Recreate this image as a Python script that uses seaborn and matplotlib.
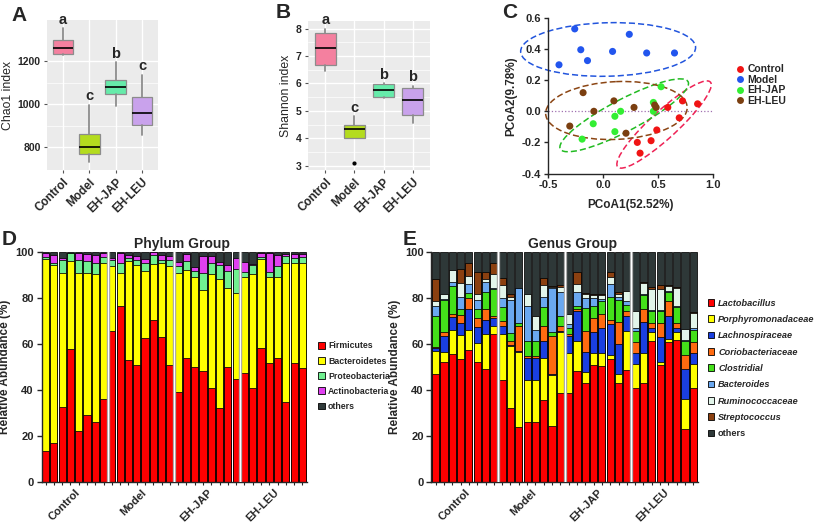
import numpy as np
import pandas as pd
import matplotlib
matplotlib.use("Agg")
import matplotlib.pyplot as plt
from matplotlib.patches import Ellipse, Patch
from matplotlib.lines import Line2D
import seaborn as sns

# ---------------- data ----------------
groups = ["Control", "Model", "EH-JAP", "EH-LEU"]

# A: Chao1 box summaries
chao_whislo = [1230, 731, 990, 857]
chao_q1 = [1234, 771, 1047, 902]
chao_med = [1261, 802, 1079, 957]
chao_q3 = [1297, 863, 1114, 1031]
chao_whishi = [1353, 997, 1195, 1136]
chao_letters = ["a", "c", "b", "c"]

# B: Shannon box summaries
shan_whislo = [6.45, 4.0, 5.48, 4.55]
shan_q1 = [6.69, 4.0, 5.49, 4.86]
shan_med = [7.28, 4.34, 5.75, 5.41]
shan_q3 = [7.85, 4.47, 5.98, 5.85]
shan_whishi = [8.0, 4.8, 6.0, 5.92]
shan_fliers = [[], [3.11], [], []]
shan_letters = ["a", "c", "b", "b"]

box_colors = ["#F4809F", "#B4DC1E", "#66EBAA", "#C9A2EC"]

# C: PCoA coordinates
pc1_control = [0.723, 0.86, 0.589, 0.693, 0.489, 0.437, 0.312, 0.337]
pc2_control = [0.067, 0.048, 0.025, -0.042, -0.12, -0.189, -0.2, -0.269]
pc1_model = [-0.257, 0.239, -0.202, 0.087, 0.397, 0.65, -0.141, -0.40]
pc2_model = [0.53, 0.495, 0.396, 0.385, 0.375, 0.375, 0.326, 0.299]
pc1_jap = [0.528, 0.458, 0.458, 0.16, 0.108, -0.089, 0.108, -0.19]
pc2_jap = [0.158, 0.057, 0.0, 0.0, -0.032, -0.08, -0.131, -0.179]
pc1_leu = [-0.181, 0.099, -0.083, 0.282, 0.483, -0.302, 0.209, 0.47]
pc2_leu = [0.12, 0.067, 0.0, 0.025, 0.025, -0.095, -0.141, 0.04]
pcoa_colors = ["#F01414", "#2255EE", "#33EE33", "#7B3F10"]
ellipse_colors = ["#EE2255", "#2255DD", "#22BB22", "#8B4513"]

# D: phylum, cumulative tops (%)
phy_names = ["Firmicutes", "Bacteroidetes", "Proteobacteria", "Actinobacteria", "others"]
phy_colors = ["#FF0000", "#FFFF00", "#70F090", "#E040F0", "#2F3A3A"]
phy_firm = [13.3, 17.0, 32.3, 57.5, 22.2, 29.1, 26.1, 35.9,
            65.5, 76.4, 52.9, 50.7, 62.5, 70.3, 62.8, 50.7,
            39.1, 53.9, 50.0, 48.1, 40.6, 31.9, 50.0, 44.5,
            47.4, 40.6, 58.1, 51.4, 53.6, 34.8, 51.4, 49.3]
phy_bact = [96.7, 94.3, 90.9, 95.8, 90.9, 90.6, 90.1, 94.9,
            93.9, 90.8, 95.9, 94.0, 91.7, 94.5, 94.9, 93.9,
            90.8, 91.9, 89.1, 83.2, 90.1, 88.0, 84.4, 82.2,
            89.2, 90.3, 96.7, 88.8, 89.1, 95.3, 95.3, 95.3]
phy_proteo = [97.9, 95.2, 96.5, 99.3, 96.4, 95.8, 95.2, 97.8,
              96.2, 95.0, 97.1, 96.4, 95.3, 98.6, 96.4, 96.4,
              93.8, 96.0, 91.5, 90.8, 95.0, 94.2, 91.6, 92.3,
              91.0, 94.0, 97.6, 91.0, 93.9, 98.2, 97.1, 97.5]
phy_actino = [99.3, 98.6, 97.3, 99.4, 99.6, 99.2, 98.7, 99.5,
              97.4, 99.6, 98.6, 98.1, 97.0, 99.9, 98.6, 98.0,
              95.7, 98.9, 93.5, 98.1, 98.1, 95.6, 94.3, 97.2,
              95.7, 94.8, 99.3, 99.4, 98.6, 99.0, 99.0, 99.0]

# E: genus, cumulative tops (%)
gen_names = ["Lactobacillus", "Porphyromonadaceae", "Lachnospiraceae", "Coriobacteriaceae",
             "Clostridial", "Bacteroides", "Ruminococcaceae", "Streptococcus", "others"]
gen_colors = ["#FF0000", "#FFFF00", "#1A3FE0", "#FF6A10", "#44E01A",
              "#6AA8F0", "#E2F5EA", "#8B4010", "#2E3838"]
gen_lacto = [47.0, 52.2, 55.5, 53.3, 57.1, 51.9, 49.0, 64.2,
             44.3, 32.0, 24.0, 26.0, 26.0, 35.4, 24.2, 38.4,
             38.4, 48.0, 42.8, 50.8, 50.2, 53.2, 42.8, 48.4,
             40.6, 42.8, 61.3, 50.8, 60.6, 61.5, 22.8, 40.6]
gen_porph = [57.0, 56.3, 65.8, 63.7, 66.1, 60.3, 64.0, 67.9,
             64.2, 58.9, 56.5, 44.3, 44.3, 53.8, 46.4, 65.0,
             56.0, 61.0, 47.7, 56.0, 55.8, 55.2, 47.0, 65.7,
             51.2, 56.0, 65.0, 52.0, 62.0, 65.2, 35.9, 51.2]
gen_lachno = [58.0, 63.2, 71.5, 69.0, 75.1, 67.2, 70.5, 71.2,
              67.9, 59.5, 56.9, 53.6, 53.6, 61.0, 47.0, 65.5,
              63.2, 74.0, 56.4, 65.0, 67.0, 68.6, 60.0, 72.2,
              55.8, 69.5, 67.0, 63.0, 72.0, 67.0, 49.2, 55.8]
gen_corio = [58.6, 65.1, 72.7, 72.4, 79.7, 71.2, 74.9, 71.9,
             69.8, 61.1, 67.6, 54.8, 54.8, 67.9, 63.5, 67.5,
             64.3, 75.3, 65.5, 71.0, 73.0, 70.3, 69.5, 74.0,
             60.6, 75.0, 69.2, 69.0, 78.5, 69.2, 55.0, 60.6]
gen_clost = [72.2, 78.9, 85.0, 74.9, 82.1, 75.1, 82.4, 83.9,
             76.0, 64.7, 68.8, 61.0, 61.0, 76.0, 65.0, 72.0,
             66.8, 76.5, 75.5, 76.5, 78.5, 80.5, 79.0, 77.0,
             65.7, 81.0, 74.0, 74.0, 82.6, 75.8, 61.0, 65.8]
gen_bact = [76.6, 79.3, 86.8, 80.5, 85.8, 79.2, 86.8, 84.3,
            80.0, 79.2, 84.0, 76.5, 66.0, 80.5, 84.0, 82.5,
            68.5, 82.6, 80.0, 80.0, 79.5, 86.0, 80.2, 78.5,
            66.7, 81.5, 74.6, 74.8, 83.0, 76.3, 61.8, 66.8]
gen_rumino = [78.4, 81.4, 92.0, 86.3, 89.4, 81.5, 88.2, 90.1,
              85.5, 80.2, 84.3, 81.7, 72.0, 85.5, 84.7, 84.5,
              72.7, 85.8, 81.4, 81.3, 81.0, 89.0, 81.5, 82.8,
              74.0, 86.5, 83.8, 83.6, 85.0, 84.0, 66.3, 73.5]
gen_strep = [88.2, 81.4, 92.0, 92.3, 95.2, 91.3, 91.3, 95.2,
             88.7, 81.4, 84.3, 81.7, 72.0, 88.5, 85.3, 85.6,
             72.7, 91.0, 82.0, 81.7, 81.4, 91.0, 82.5, 83.1,
             74.4, 86.8, 84.5, 85.6, 85.5, 84.8, 66.6, 73.9]

n_per_group = 8
samples = [f"{g}{i + 1}" for g in groups for i in range(n_per_group)]

# ---------------- style ----------------
sns.set_style("ticks")
plt.rcParams["font.family"] = ["Liberation Sans", "DejaVu Sans"]
plt.rcParams["axes.linewidth"] = 1.0

W, H = 817, 532
fig = plt.figure(figsize=(W / 100, H / 100), dpi=100)


def px_axes(x0, y0, x1, y1):
    return fig.add_axes([x0 / W, 1 - y1 / H, (x1 - x0) / W, (y1 - y0) / H])


# ---------------- A / B box panels ----------------
def box_panel(ax, lo, q1, med, q3, hi, fliers, letters, ylim, yticks, ylabel, width):
    stats = []
    for i in range(len(groups)):
        stats.append(dict(whislo=lo[i], q1=q1[i], med=med[i], q3=q3[i], whishi=hi[i],
                          fliers=fliers[i] if fliers else []))
    ax.set_facecolor("#EBEBEB")
    ax.set_axisbelow(True)
    bp = ax.bxp(stats, positions=range(4), widths=width, patch_artist=True, showcaps=False,
                boxprops=dict(edgecolor="#8C8C8C", linewidth=0.9),
                whiskerprops=dict(color="#8C8C8C", linewidth=1.3),
                medianprops=dict(color="black", linewidth=1.2),
                flierprops=dict(marker="o", markersize=2, markerfacecolor="black",
                                markeredgecolor="black"))
    for patch, c in zip(bp["boxes"], box_colors):
        patch.set_facecolor(c)
    for i, t in enumerate(letters):
        ax.annotate(t, (i, hi[i]), xytext=(0, 1), textcoords="offset points",
                    ha="center", va="bottom", fontsize=10.5, fontweight="bold")
    ax.set_xlim(-0.6, 3.6)
    ax.set_ylim(*ylim)
    ax.set_yticks(yticks)
    ax.grid(True, which="major", color="white", linewidth=1.0)
    ax.set_yticks([(a + b) / 2 for a, b in zip(yticks[:-1], yticks[1:])], minor=True)
    ax.grid(True, which="minor", axis="y", color="white", linewidth=0.5)
    for s in ax.spines.values():
        s.set_visible(False)
    ax.set_xticks(range(4))
    ax.set_xticklabels(groups, rotation=45, ha="right", rotation_mode="anchor",
                       fontsize=8.5, fontweight="bold")
    ax.tick_params(axis="both", which="major", length=2.5, color="#555555", pad=2)
    ax.tick_params(axis="y", which="minor", length=0)
    for lab in ax.get_yticklabels():
        lab.set_fontweight("bold")
        lab.set_fontsize(7.5)
    ax.set_ylabel(ylabel, fontsize=8.8, labelpad=3)


axA = px_axes(47, 20, 158, 170)
box_panel(axA, chao_whislo, chao_q1, chao_med, chao_q3, chao_whishi, None, chao_letters,
          (695, 1390), [800, 1000, 1200], "Chao1 index", 0.78)

axB = px_axes(308, 21, 430, 170)
box_panel(axB, shan_whislo, shan_q1, shan_med, shan_q3, shan_whishi, shan_fliers, shan_letters,
          (2.84, 8.28), [3, 4, 5, 6, 7, 8], "Shannon index", 0.74)

# ---------------- C PCoA ----------------
axC = px_axes(548, 18, 713, 173.5)
pc1_all = [pc1_control, pc1_model, pc1_jap, pc1_leu]
pc2_all = [pc2_control, pc2_model, pc2_jap, pc2_leu]
df_pc = pd.DataFrame({
    "PCoA1": sum(pc1_all, []),
    "PCoA2": sum(pc2_all, []),
    "group": sum([[g] * len(p) for g, p in zip(groups, pc1_all)], []),
})
axC.axhline(0, color="#A070B0", linestyle=":", linewidth=0.9, zorder=0)


def conf_ellipse(x, y, n_std, color):
    cov = np.cov(x, y)
    vals, vecs = np.linalg.eigh(cov)
    order = vals.argsort()[::-1]
    vals, vecs = vals[order], vecs[:, order]
    angle = np.degrees(np.arctan2(vecs[1, 0], vecs[0, 0]))
    w, h = 2 * n_std * np.sqrt(vals)
    return Ellipse((np.mean(x), np.mean(y)), w, h, angle=angle, fill=False,
                   edgecolor=color, linestyle=(0, (4, 2)), linewidth=1.1, clip_on=False)


for x, y, c in zip(pc1_all, pc2_all, ellipse_colors):
    axC.add_patch(conf_ellipse(x, y, 2.2, c))

sns.scatterplot(data=df_pc, x="PCoA1", y="PCoA2", hue="group", hue_order=groups,
                palette=pcoa_colors, s=26, edgecolor="none", legend=False, ax=axC, zorder=3)
axC.set_xlim(-0.5, 1.0)
axC.set_ylim(-0.4, 0.6)
axC.set_xticks([-0.5, 0.0, 0.5, 1.0])
axC.set_yticks([-0.4, -0.2, 0.0, 0.2, 0.4, 0.6])
axC.set_xticklabels(["-0.5", "0.0", "0.5", "1.0"])
axC.set_yticklabels(["-0.4", "-0.2", "0.0", "0.2", "0.4", "0.6"])
sns.despine(ax=axC)
axC.tick_params(length=3, width=1, pad=2)
for lab in axC.get_xticklabels() + axC.get_yticklabels():
    lab.set_fontweight("bold")
    lab.set_fontsize(8)
axC.set_xlabel("PCoA1(52.52%)", fontsize=8.5, fontweight="bold", labelpad=6)
axC.set_ylabel("PCoA2(9.78%)", fontsize=8.5, fontweight="bold", labelpad=3)
pc_handles = [Line2D([], [], marker="o", linestyle="none", markersize=5,
                     markerfacecolor=c, markeredgecolor="none") for c in pcoa_colors]
leg = fig.legend(pc_handles, groups, loc="upper left", bbox_to_anchor=(732 / W, 1 - 59 / H),
                 frameon=False, borderpad=0, handlelength=0.6, handletextpad=0.4,
                 labelspacing=0.05, prop=dict(weight="bold", size=7.5))


# ---------------- D / E stacked bars ----------------
def stacked_panel(ax, layers, colors, title):
    # layers: cumulative tops from top layer to bottom, drawn in that order
    for vals, c in zip(layers, colors):
        df = pd.DataFrame({"sample": samples, "value": vals})
        sns.barplot(data=df, x="sample", y="value", order=samples, color=c, saturation=1,
                    width=0.86, edgecolor="black", linewidth=0.55, ax=ax)
    for b in [7.5, 15.5, 23.5]:
        ax.axvline(b, color="#9A9A9A", linewidth=2.4, zorder=5)
        ax.axvline(b, color="white", linewidth=1.0, zorder=6)
    ax.set_xlim(-0.5, 31.5)
    ax.set_ylim(0, 100)
    ax.set_yticks([0, 20, 40, 60, 80, 100])
    for lab in ax.get_yticklabels():
        lab.set_fontweight("bold")
        lab.set_fontsize(8)
    ax.set_xticks(range(32), minor=True)
    ax.set_xticks([3.5, 11.5, 19.5, 27.5])
    ax.set_xticklabels(groups, rotation=45, ha="right", rotation_mode="anchor",
                       fontsize=8, fontweight="bold")
    ax.tick_params(axis="x", which="major", length=0, pad=4)
    ax.tick_params(axis="x", which="minor", length=2.5, width=0.8)
    ax.tick_params(axis="y", length=3.5, width=1, pad=2)
    ax.set_xlabel("")
    ax.set_ylabel("Relative Abundance (%)", fontsize=8.5, fontweight="bold", labelpad=3)
    ax.set_title(title, fontsize=10, fontweight="bold", pad=3, x=0.53)
    sns.despine(ax=ax)


axD = px_axes(41.5, 251.7, 306.5, 481.7)
others_phy = [100] * len(samples)
stacked_panel(axD, [others_phy, phy_actino, phy_proteo, phy_bact, phy_firm],
              phy_colors[::-1], "Phylum Group")
phy_handles = [Patch(facecolor=c, edgecolor="black", linewidth=0.6) for c in phy_colors]
fig.legend(phy_handles, phy_names, loc="upper left", bbox_to_anchor=(314 / W, 1 - 337 / H),
           frameon=False, borderpad=0, handlelength=0.75, handleheight=0.75,
           handletextpad=0.35, labelspacing=0.7, prop=dict(weight="bold", size=6.3))

axE = px_axes(431.5, 251.7, 697.5, 481.7)
others_gen = [100] * len(samples)
stacked_panel(axE, [others_gen, gen_strep, gen_rumino, gen_bact, gen_clost, gen_corio,
                    gen_lachno, gen_porph, gen_lacto], gen_colors[::-1], "Genus Group")
gen_handles = [Patch(facecolor=c, edgecolor="black", linewidth=0.6) for c in gen_colors]
legE = fig.legend(gen_handles, gen_names, loc="upper left", bbox_to_anchor=(703 / W, 1 - 294 / H),
                  frameon=False, borderpad=0, handlelength=0.75, handleheight=0.75,
                  handletextpad=0.4, labelspacing=0.8, prop=dict(weight="bold", size=6.6))
for t in legE.get_texts()[:-1]:
    t.set_style("italic")

# ---------------- panel letters ----------------
for letter, x, y in [("A", 11, 21), ("B", 276, 18), ("C", 502, 18), ("D", 2, 245), ("E", 403, 245)]:
    fig.text(x / W, 1 - y / H, letter, fontsize=15, fontweight="bold", va="baseline")

fig.savefig("out.png", dpi=100)
